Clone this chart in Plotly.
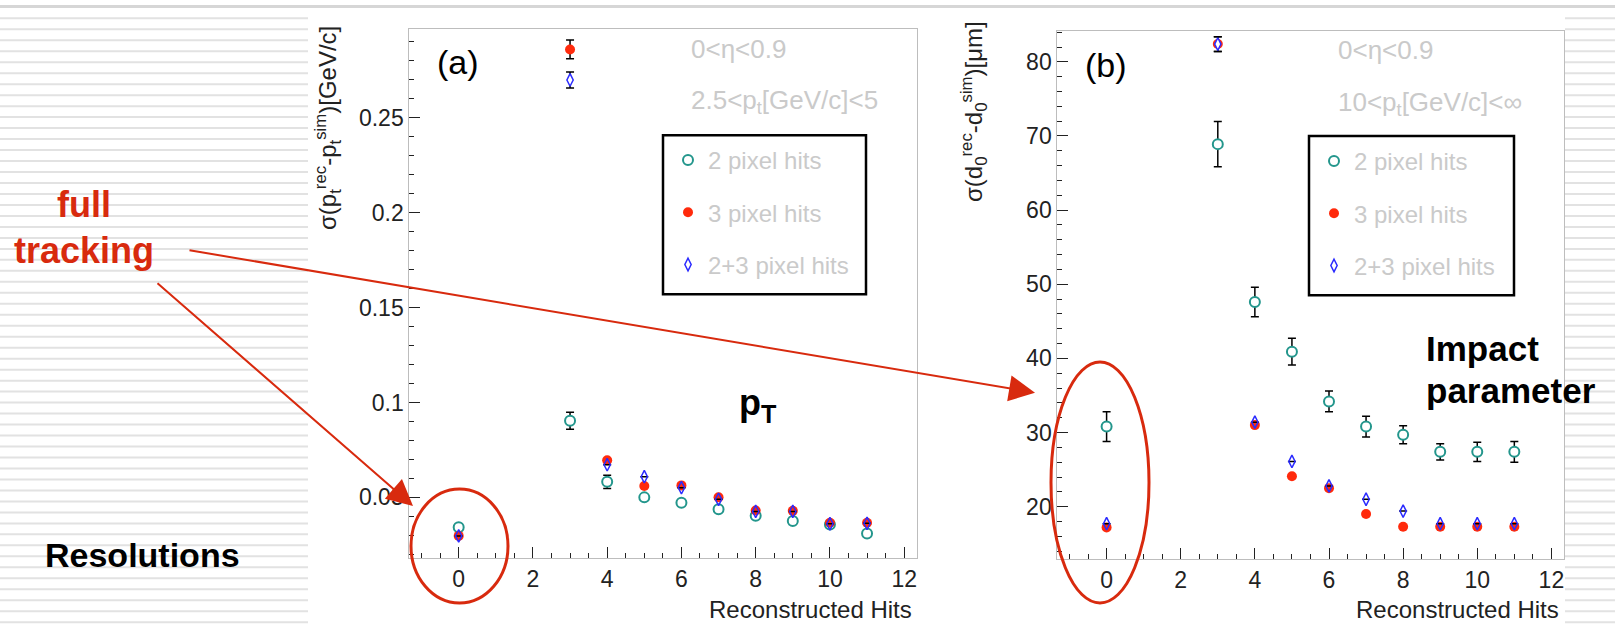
import plotly.graph_objects as go

W, H = 1615, 627

# ---------------- data ----------------
hits = [0, 3, 4, 5, 6, 7, 8, 9, 10, 11]

# panel (a): pT resolution [GeV/c]
pt_2pix = [0.0343, 0.0904, 0.0582, 0.0500, 0.0472, 0.0437, 0.0403, 0.0375, 0.0357, 0.0310]
pt_2pix_err = [0, 0.0045, 0.0035, 0, 0, 0, 0, 0, 0, 0]
pt_3pix = [0.0297, 0.2860, 0.0695, 0.0560, 0.0563, 0.0500, 0.0431, 0.0429, 0.0366, 0.0366]
pt_3pix_err = [0, 0.0049, 0, 0, 0, 0, 0, 0, 0, 0]
pt_23pix = [0.0297, 0.2699, 0.0672, 0.0609, 0.0551, 0.0490, 0.0426, 0.0426, 0.0361, 0.0363]
pt_23pix_err = [0, 0.0042, 0, 0, 0, 0, 0, 0, 0, 0]

# panel (b): d0 resolution [um]
d0_2pix = [30.8, 68.9, 47.6, 40.9, 34.2, 30.8, 29.7, 27.4, 27.4, 27.4]
d0_2pix_err = [2.0, 3.06, 2.0, 1.8, 1.4, 1.4, 1.2, 1.1, 1.3, 1.4]
d0_3pix = [17.2, 82.4, 31.0, 24.1, 22.5, 19.0, 17.3, 17.3, 17.3, 17.3]
d0_3pix_err = [0, 1.0, 0, 0, 0, 0, 0, 0, 0, 0]
d0_23pix = [17.7, 82.4, 31.4, 26.1, 22.8, 21.0, 19.4, 17.7, 17.7, 17.7]
d0_23pix_err = [0, 1.0, 0, 0, 0, 0, 0, 0, 0, 0]

series_names = ["2 pixel hits", "3 pixel hits", "2+3 pixel hits"]
x_ticks = [0, 2, 4, 6, 8, 10, 12]

# ---------------- styles ----------------
TEAL = "#23968c"
RED = "#ff2a0c"
BLUE = "#2b2bff"
ANN_RED = "#d82a0e"
LIGHT = "#cacaca"
FONT = "Liberation Sans"


def px(x):
    return x / W


def py(y):
    return 1 - y / H


def err(arr):
    return dict(type="data", array=arr, visible=True, color="black",
                thickness=1.5, width=4)


def add_panel(fig, xa, ya, leg, y2, e2, y3, e3, y23, e23):
    fig.add_trace(go.Scatter(
        x=hits, y=y2, mode="markers", name=series_names[0], xaxis=xa, yaxis=ya,
        legend=leg, legendgroup=leg + "g1", error_y=err(e2),
        marker=dict(symbol="circle", size=10, color="white",
                    line=dict(color=TEAL, width=2))))
    fig.add_trace(go.Scatter(
        x=hits, y=y3, mode="markers", name=series_names[1], xaxis=xa, yaxis=ya,
        legend=leg, legendgroup=leg + "g2", error_y=err(e3),
        marker=dict(symbol="circle", size=10, color=RED,
                    line=dict(color=RED, width=0))))
    fills = ["white" if e > 0 else "rgba(0,0,0,0)" for e in e23]
    fig.add_trace(go.Scatter(
        x=hits, y=y23, mode="markers", name=series_names[2], xaxis=xa, yaxis=ya,
        legend=leg, legendgroup=leg + "g3", error_y=err(e23),
        marker=dict(symbol="diamond-tall", size=9, color=fills,
                    line=dict(color=BLUE, width=1.5))))


fig = go.Figure()
add_panel(fig, "x", "y", "legend", pt_2pix, pt_2pix_err, pt_3pix, pt_3pix_err,
          pt_23pix, pt_23pix_err)
add_panel(fig, "x2", "y2", "legend2", d0_2pix, d0_2pix_err, d0_3pix, d0_3pix_err,
          d0_23pix, d0_23pix_err)

axis_common = dict(showgrid=False, zeroline=False, showline=True, linecolor="#bdbdbd",
                   linewidth=1, mirror=True, ticks="inside", tickcolor="#222",
                   tickfont=dict(family=FONT, size=23, color="#222"))

xa = dict(axis_common, range=[-1.33, 12.34], tickvals=x_ticks, ticklen=11,
          minor=dict(ticks="inside", dtick=0.5, ticklen=5, tickcolor="#222"))

legend_common = dict(xanchor="left", yanchor="top", bgcolor="rgba(0,0,0,0)",
                     borderwidth=0,
                     font=dict(family=FONT, size=24, color=LIGHT),
                     tracegroupgap=18)

fig.update_layout(
    width=W, height=H, autosize=False,
    margin=dict(l=0, r=0, t=0, b=0),
    paper_bgcolor="white", plot_bgcolor="white",
    showlegend=True,
    xaxis=dict(xa, domain=[px(409.3), px(916.8)], anchor="y"),
    yaxis=dict(axis_common, domain=[py(558.3), py(29.3)], anchor="x",
               range=[0.0179, 0.2966], tickvals=[0.05, 0.1, 0.15, 0.2, 0.25],
               ticktext=["0.05", "0.1", "0.15", "0.2", "0.25"], ticklen=11,
               minor=dict(ticks="inside", dtick=0.01, ticklen=5, tickcolor="#222")),
    xaxis2=dict(xa, domain=[px(1057.3), px(1564)], anchor="y2"),
    yaxis2=dict(axis_common, domain=[py(559.3), py(30.7)], anchor="x2",
                range=[12.9, 84.2], tickvals=[20, 30, 40, 50, 60, 70, 80], ticklen=11,
                minor=dict(ticks="inside", dtick=2, ticklen=5, tickcolor="#222")),
    legend=dict(legend_common, x=px(668), y=py(138)),
    legend2=dict(legend_common, x=px(1314), y=py(139)),
)

# ---------------- slide background decoration ----------------
shapes = []
y = 18.3
while y < H:
    shapes.append(dict(type="line", xref="paper", yref="paper", layer="below",
                       x0=0, x1=px(308), y0=py(y), y1=py(y),
                       line=dict(color="#e2e2e2", width=2)))
    shapes.append(dict(type="line", xref="paper", yref="paper", layer="below",
                       x0=px(1565), x1=1, y0=py(y), y1=py(y),
                       line=dict(color="#e2e2e2", width=2)))
    y += 10.98
shapes.append(dict(type="line", xref="paper", yref="paper", x0=0, x1=1,
                   y0=py(6.5), y1=py(6.5), line=dict(color="#d6d6d6", width=3)))
# legend frames
shapes.append(dict(type="rect", xref="paper", yref="paper", layer="above",
                   x0=px(663), x1=px(866), y0=py(294.3), y1=py(135.3),
                   fillcolor="white", line=dict(color="black", width=2.5)))
shapes.append(dict(type="rect", xref="paper", yref="paper", layer="above",
                   x0=px(1309), x1=px(1514), y0=py(295.3), y1=py(136),
                   fillcolor="white", line=dict(color="black", width=2.5)))
# red ellipses
shapes.append(dict(type="circle", xref="paper", yref="paper",
                   x0=px(411), x1=px(508), y0=py(603), y1=py(489),
                   line=dict(color=ANN_RED, width=3)))
shapes.append(dict(type="circle", xref="paper", yref="paper",
                   x0=px(1051), x1=px(1149), y0=py(603), y1=py(362),
                   line=dict(color=ANN_RED, width=3)))
fig.update_layout(shapes=shapes)

# ---------------- annotations ----------------
ann = []


def text(t, x, y, size, color="black", xanchor="center", yanchor="middle",
         bold=False, angle=0, family=FONT):
    ann.append(dict(text=("<b>%s</b>" % t) if bold else t, x=px(x), y=py(y),
                    xref="paper", yref="paper", showarrow=False,
                    xanchor=xanchor, yanchor=yanchor, textangle=angle,
                    font=dict(family=family, size=size, color=color)))


# panel (a)
text("(a)", 458, 62, 34)
text("0&lt;η&lt;0.9", 689, 49, 26, color=LIGHT, xanchor="left")
text("2.5&lt;p<sub>t</sub>[GeV/c]&lt;5", 689, 102, 26, color=LIGHT, xanchor="left")
text("σ(p<sub>t</sub><sup>rec</sup>-p<sub>t</sub><sup>sim</sup>)[GeV/c]", 328, 128, 24,
     color="#222", angle=-90)
text("Reconstructed Hits", 914, 609, 24, color="#222", xanchor="right")
text("p<sub>T</sub>", 737, 405, 36, bold=True, xanchor="left")

# panel (b)
text("(b)", 1106, 65, 34)
text("0&lt;η&lt;0.9", 1336, 50, 26, color=LIGHT, xanchor="left")
text("10&lt;p<sub>t</sub>[GeV/c]&lt;∞", 1336, 103, 26, color=LIGHT, xanchor="left")
text("σ(d<sub>0</sub><sup>rec</sup>-d<sub>0</sub><sup>sim</sup>)[μm]", 974, 112, 24,
     color="#222", angle=-90)
text("Reconstructed Hits", 1561, 609, 24, color="#222", xanchor="right")
text("Impact", 1424, 348, 35, bold=True, xanchor="left")
text("parameter", 1424, 390, 35, bold=True, xanchor="left")

# slide texts
text("full", 84, 205, 36, color=ANN_RED, bold=True)
text("tracking", 84, 250, 36, color=ANN_RED, bold=True)
text("Resolutions", 142, 555, 34, bold=True)

# arrows
for tip, tail in [((1035, 392.7), (188, 250)), ((413, 506), (156, 282))]:
    ann.append(dict(text="", x=px(tip[0]), y=py(tip[1]), xref="paper", yref="paper",
                    ax=tail[0] - tip[0], ay=tail[1] - tip[1], axref="pixel",
                    ayref="pixel", showarrow=True, arrowhead=2, arrowsize=2.6,
                    arrowwidth=2, arrowcolor=ANN_RED, standoff=0, startstandoff=0))

fig.update_layout(annotations=ann)

fig.write_html("out.html", config={"displayModeBar": False},
               post_script="document.body.style.margin='0';"
                           "document.body.style.overflow='hidden';")
